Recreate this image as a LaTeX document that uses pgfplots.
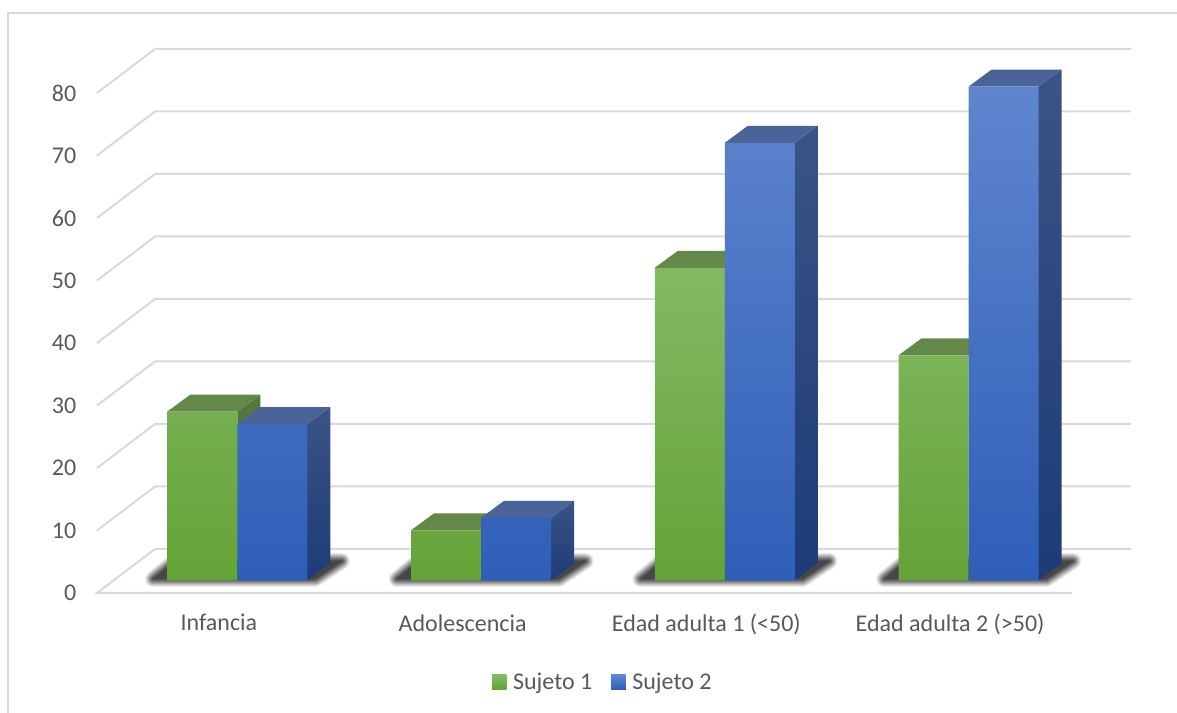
\documentclass[border=0pt]{standalone}
\usepackage{fontspec}
\setmainfont{Carlito}
\usepackage{pgfplots}
\pgfplotsset{compat=1.18}

\definecolor{txt}{HTML}{595959}
\definecolor{gridc}{HTML}{D9D9D9}
\definecolor{gtop}{HTML}{84B964}
\definecolor{gmid}{HTML}{70AF45}
\definecolor{gbot}{HTML}{64A337}
\definecolor{gcap}{HTML}{63884A}
\definecolor{gsideA}{HTML}{55793D}
\definecolor{gsideB}{HTML}{3F6B24}
\definecolor{btop}{HTML}{5F85CE}
\definecolor{bmid}{HTML}{3F6EC8}
\definecolor{bbot}{HTML}{2E5FB7}
\definecolor{bcap}{HTML}{4A6499}
\definecolor{bsideA}{HTML}{3A5486}
\definecolor{bsideB}{HTML}{1E3B78}

\pgfplotsset{
    face/.style={forget plot, no markers, draw=none, xshift=13.8pt, yshift=9.5pt},
    greenbar/.style={draw=none, top color=gtop, middle color=gmid, bottom color=gbot},
    bluebar/.style={draw=none, top color=btop, middle color=bmid, bottom color=bbot},
    swatch/.style={legend image code/.code={
        \fill[##1, draw=none] (0pt,-15.25pt) rectangle (11pt,-4.25pt);}},
}

% 1 px of the reference = 0.75pt, origin of the picture = foot of the axis (97,593)
% soft shadow on the floor: opaque grey layers, widest and lightest first
\newcommand{\floorshadow}[1]{%
  \begin{scope}[xshift=#1pt]
    \foreach \w/\k in {12/8,10.5/16,9/25,7.5/34,6/43,4.5/52,3/60,1.5/67,0.1/72}{
      \draw[draw=black!\k, fill=black!\k, line width=\w pt, line join=round]
        (42pt,10.5pt) -- (163.5pt,10.5pt) -- (183.75pt,24pt) -- (58.5pt,24pt) -- cycle;
    }
  \end{scope}}

\begin{document}
\begin{tikzpicture}
\path[use as bounding box] (-72.75pt,-90pt) rectangle (810pt,444.75pt);
\draw[gridc, line width=1.5pt] (-66.4pt,-90pt) -- (-66.4pt,435pt) -- (810pt,435pt);

\floorshadow{0}
\floorshadow{182.8}
\floorshadow{365.6}
\floorshadow{548.4}

\begin{axis}[
    at={(0,0)}, anchor=south west,
    scale only axis,
    width=731.25pt, height=375pt,
    xmin=-0.5, xmax=3.5,
    ymin=0, ymax=80,
    clip=false,
    axis line style={draw=none},
    tick style={draw=none},
    xtick={0,1,2,3},
    xticklabels={Infancia,Adolescencia,Edad adulta 1 (<50),Edad adulta 2 (>50)},
    ytick={0,10,...,80},
    /pgf/number format/assume math mode=true,
    tick label style={font=\fontsize{18}{21}\selectfont, text=txt},
    x tick label style={yshift=-12.5pt},
    y tick label style={xshift=-12pt},
    legend style={
        at={(0.519,-0.178)}, anchor=center, draw=none, fill=none,
        legend columns=2, font=\fontsize{18}{21}\selectfont, text=txt,
        /tikz/every odd column/.append style={column sep=3pt},
        /tikz/every even column/.append style={column sep=12pt},
    },
    legend cell align=left,
]

% wall and floor lines: front edge at the value, back wall 58 px right and 44 px up
\addplot[forget plot, no markers, gridc, line width=1.5pt, unbounded coords=jump] coordinates {
    (3.5,0) (-0.5,0) (-0.262,7.04) (3.742,7.04) (0,nan)
    (-0.5,10) (-0.262,17.04) (3.742,17.04) (0,nan)
    (-0.5,20) (-0.262,27.04) (3.742,27.04) (0,nan)
    (-0.5,30) (-0.262,37.04) (3.742,37.04) (0,nan)
    (-0.5,40) (-0.262,47.04) (3.742,47.04) (0,nan)
    (-0.5,50) (-0.262,57.04) (3.742,57.04) (0,nan)
    (-0.5,60) (-0.262,67.04) (3.742,67.04) (0,nan)
    (-0.5,70) (-0.262,77.04) (3.742,77.04) (0,nan)
    (-0.5,80) (-0.262,87.04) (3.742,87.04)
};

% Sujeto 1: right side and cap
\addplot[face, top color=gsideA, bottom color=gsideB] coordinates {(0,0) (0.0944,2.72) (0.0944,29.72) (0,27)} -- cycle;
\addplot[face, fill=gcap] coordinates {(-0.2872,27) (0,27) (0.0944,29.72) (-0.1928,29.72)} -- cycle;
\addplot[face, fill=gcap] coordinates {(0.7128,8) (1,8) (1.0944,10.72) (0.8072,10.72)} -- cycle;
\addplot[face, fill=gcap] coordinates {(1.7128,50) (2,50) (2.0944,52.72) (1.8072,52.72)} -- cycle;
\addplot[face, fill=gcap] coordinates {(2.7128,36) (3,36) (3.0944,38.72) (2.8072,38.72)} -- cycle;

% Sujeto 2: right side and cap
\addplot[face, top color=bsideA, bottom color=bsideB] coordinates {(0.2872,0) (0.3816,2.72) (0.3816,27.72) (0.2872,25)} -- cycle;
\addplot[face, fill=bcap] coordinates {(0,25) (0.2872,25) (0.3816,27.72) (0.0944,27.72)} -- cycle;
\addplot[face, top color=bsideA, bottom color=bsideB] coordinates {(1.2872,0) (1.3816,2.72) (1.3816,12.72) (1.2872,10)} -- cycle;
\addplot[face, fill=bcap] coordinates {(1,10) (1.2872,10) (1.3816,12.72) (1.0944,12.72)} -- cycle;
\addplot[face, top color=bsideA, bottom color=bsideB] coordinates {(2.2872,0) (2.3816,2.72) (2.3816,72.72) (2.2872,70)} -- cycle;
\addplot[face, fill=bcap] coordinates {(2,70) (2.2872,70) (2.3816,72.72) (2.0944,72.72)} -- cycle;
\addplot[face, top color=bsideA, bottom color=bsideB] coordinates {(3.2872,0) (3.3816,2.72) (3.3816,81.72) (3.2872,79)} -- cycle;
\addplot[face, fill=bcap] coordinates {(3,79) (3.2872,79) (3.3816,81.72) (3.0944,81.72)} -- cycle;

% front faces
\addplot[ybar, swatch, bar width=52.5pt, bar shift=-26.25pt, xshift=13.8pt, yshift=9.5pt, greenbar]
    coordinates {(0,27) (1,8) (2,50) (3,36)};
\addlegendentry{Sujeto 1}
\addplot[ybar, swatch, bar width=52.5pt, bar shift=26.25pt, xshift=13.8pt, yshift=9.5pt, bluebar]
    coordinates {(0,25) (1,10) (2,70) (3,79)};
\addlegendentry{Sujeto 2}

\end{axis}
\end{tikzpicture}
\end{document}
